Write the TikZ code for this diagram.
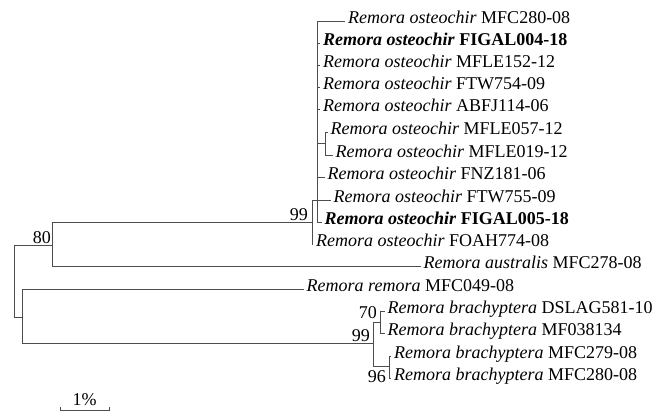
\documentclass[tikz,border=0pt]{standalone}
\usepackage{fontspec}
\setmainfont{Liberation Serif}
\usetikzlibrary{calc}
\tikzset{
  every picture/.style={line join=miter, line cap=butt},
  branch/.style={draw=black!70, line width=0.9pt},
  tip/.style={anchor=west, inner xsep=3pt, inner ysep=0pt, text height=0.7em, text depth=0.2em, font=\fontsize{18}{20}\selectfont},
  support/.style={inner sep=1pt, font=\fontsize{18}{20}\selectfont},
}
\newcommand{\Rost}{\textit{Remora osteochir}}
\newcommand{\Rbra}{\textit{Remora brachyptera}}

\begin{document}
\begin{tikzpicture}[x=1pt,y=-1pt]
\useasboundingbox (0,0) rectangle (664,412);
% inner nodes
\coordinate (root) at (14,281);
\coordinate (n80) at (52,245);
\coordinate (n99a) at (312,222);
\coordinate (nB) at (317,200);
\coordinate (nC) at (325,143.5);
\coordinate (nD) at (22,317);
\coordinate (n99b) at (373,343);
\coordinate (n70) at (380,322);
\coordinate (n96) at (389,366);
% tips
\node[tip] (ost1) at (345,21) {\Rost{} MFC280-08};
\node[tip] (ost2) at (320,43) {\textbf{\Rost{} FIGAL004-18}};
\node[tip] (ost3) at (320,65) {\Rost{} MFLE152-12};
\node[tip] (ost4) at (320,87) {\Rost{} FTW754-09};
\node[tip] (ost5) at (320,109) {\Rost{} ABFJ114-06};
\node[tip] (ost6) at (327.5,132) {\Rost{} MFLE057-12};
\node[tip] (ost7) at (332.5,155) {\Rost{} MFLE019-12};
\node[tip] (ost8) at (324.5,177) {\Rost{} FNZ181-06};
\node[tip] (ost9) at (330.5,200) {\Rost{} FTW755-09};
\node[tip] (ost10) at (321.5,222) {\textbf{\Rost{} FIGAL005-18}};
\node[tip] (ost11) at (313,244) {\Rost{} FOAH774-08};
\node[tip] (aus) at (420.5,266) {\textit{Remora australis} MFC278-08};
\node[tip] (rem) at (303.5,289) {\textit{Remora remora} MFC049-08};
\node[tip] (bra1) at (384.5,311) {\Rbra{} DSLAG581-10};
\node[tip] (bra2) at (384.5,333) {\Rbra{} MF038134};
\node[tip] (bra3) at (391,356) {\Rbra{} MFC279-08};
\node[tip] (bra4) at (391,378) {\Rbra{} MFC280-08};
% branches
\draw[branch] (root) |- (n80) (root) |- (nD);
\draw[branch] (n80) |- (n99a) (n80) |- (aus.west);
\draw[branch] (n99a) |- (nB) (n99a) |- (ost11.west);
\draw[branch] (nB) |- (ost1.west) (nB) |- (ost2.west) (nB) |- (ost3.west)
  (nB) |- (ost4.west) (nB) |- (ost5.west) (nB) |- (nC) (nB) |- (ost8.west)
  (nB) |- (ost9.west) (nB) |- (ost10.west);
\draw[branch] (nC) |- (ost6.west) (nC) |- (ost7.west);
\draw[branch] (nD) |- (rem.west) (nD) |- (n99b);
\draw[branch] (n99b) |- (n70) (n99b) |- (n96);
\draw[branch] (n70) |- (bra1.west) (n70) |- (bra2.west);
\draw[branch] (n96) |- (bra3.west) (n96) |- (bra4.west);
% bootstrap values
\node[support, anchor=south east] (b80) at (n80) {80};
\node[support, anchor=south east] (b99a) at ([xshift=-3pt]n99a) {99};
\node[support, anchor=east] (b70) at (378,313) {70};
\node[support, anchor=south east] (b99b) at ([xshift=-2pt]n99b) {99};
\node[support, anchor=east] (b96) at (387,377) {96};
% scale bar
\coordinate (sbl) at (60,410);
\coordinate (sbr) at (109,410);
\draw[branch] ([yshift=3pt]sbl) -- (sbl) -- (sbr) -- ([yshift=3pt]sbr);
\node[support, anchor=south] (sblab) at ($(sbl)!0.5!(sbr)+(0,3pt)$) {1\%};
\end{tikzpicture}
\end{document}
